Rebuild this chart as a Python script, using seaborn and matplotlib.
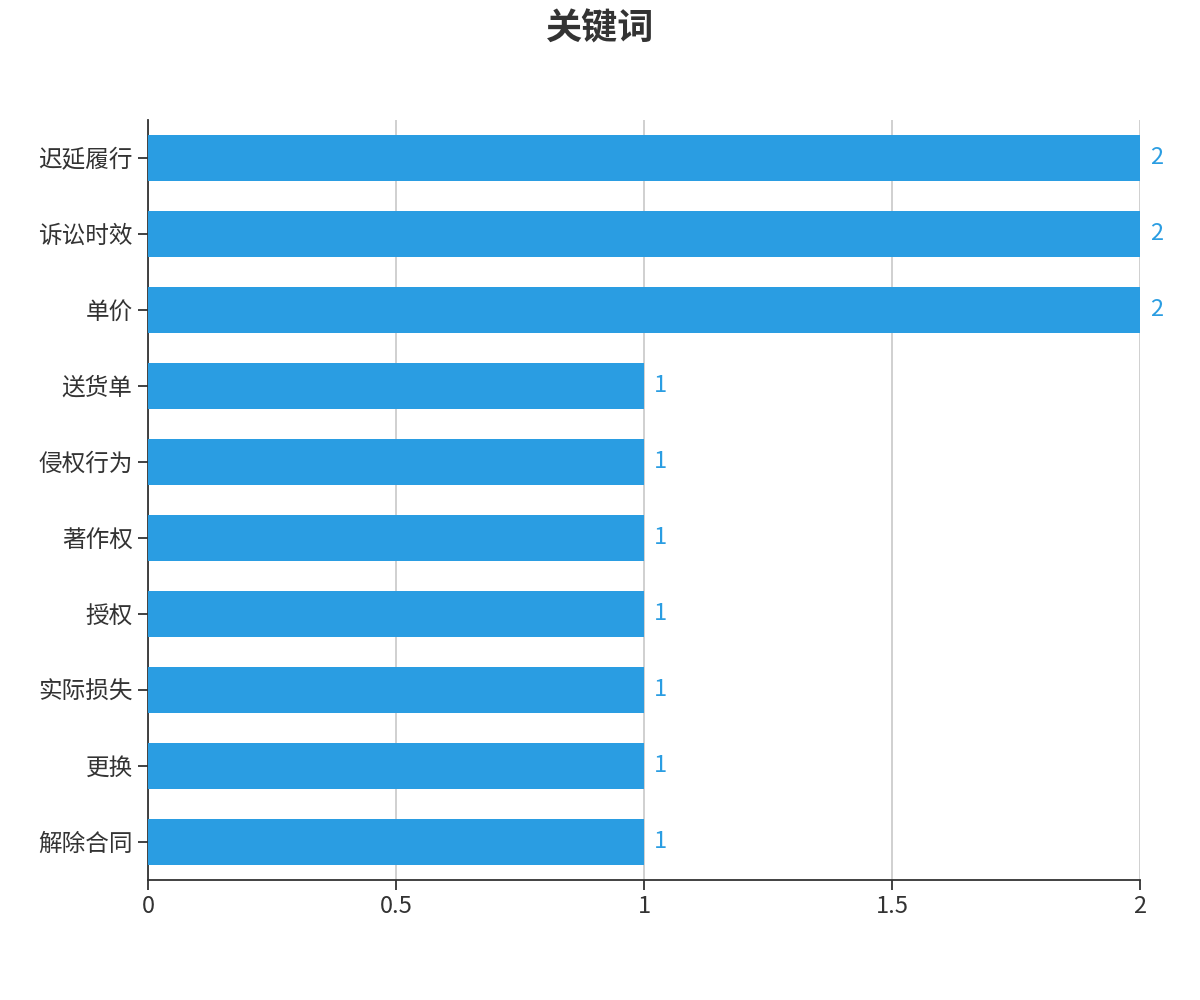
import matplotlib
matplotlib.use("Agg")
import matplotlib.pyplot as plt
import seaborn as sns
import pandas as pd

# data
keywords = ['迟延履行', '诉讼时效', '单价', '送货单', '侵权行为', '著作权', '授权', '实际损失', '更换', '解除合同']
counts = [2, 2, 2, 1, 1, 1, 1, 1, 1, 1]
x_ticks = [0, 0.5, 1, 1.5, 2]
x_tick_labels = ['0', '0.5', '1', '1.5', '2']

bar_color = '#2a9de2'
text_color = '#333333'

sns.set_theme(style='white')
plt.rcParams['font.family'] = ['Noto Sans CJK SC', 'DejaVu Sans']

df = pd.DataFrame({'keyword': keywords, 'count': counts})

fig = plt.figure(figsize=(12, 10), dpi=100)
ax = fig.add_axes([0.1233, 0.12, 0.8267, 0.76])

sns.barplot(data=df, x='count', y='keyword', orient='h', color=bar_color,
            saturation=1, width=0.6, linewidth=0, ax=ax, zorder=3)

ax.set_xlim(0, 2)
ax.set_ylim(len(keywords) - 0.5, -0.5)
ax.set_xticks(x_ticks)
ax.set_xticklabels(x_tick_labels)
ax.set_xlabel('')
ax.set_ylabel('')

ax.grid(axis='x', color='#c8c8c8', linewidth=1.2, zorder=0)
ax.grid(axis='y', visible=False)

for side in ['top', 'right']:
    ax.spines[side].set_visible(False)
for side in ['left', 'bottom']:
    ax.spines[side].set_color(text_color)
    ax.spines[side].set_linewidth(1.3)

ax.tick_params(axis='both', which='major', direction='out', length=7, width=1.3,
               color=text_color, labelcolor=text_color, labelsize=17, pad=4,
               left=True, bottom=True)

for i, v in enumerate(counts):
    ax.text(v + 0.02, i, str(v), va='center', ha='left', color=bar_color, fontsize=17)

fig.text(0.5, 0.971, '关键词', ha='center', va='center', fontsize=26,
         fontweight='bold', color=text_color)

fig.savefig('out.png', dpi=100)
